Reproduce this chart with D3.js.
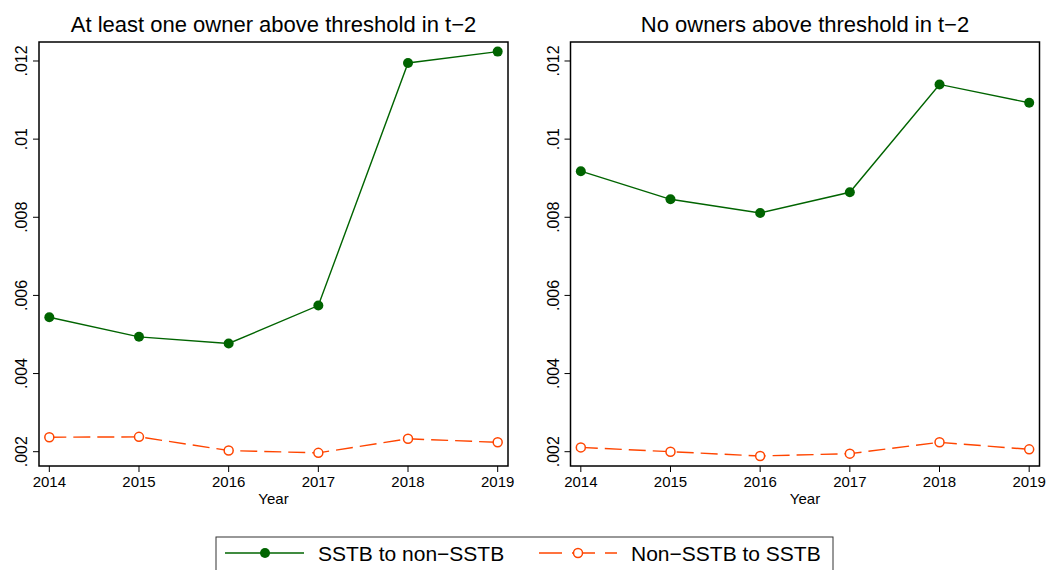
<!DOCTYPE html>
<html>
<head>
<meta charset="utf-8">
<script src="https://cdn.jsdelivr.net/npm/d3@7"></script>
<style>
  body { margin: 0; background: #fff; }
  svg { display: block; font-family: "Liberation Sans", Arial, sans-serif; }
</style>
</head>
<body>
<div id="chart"></div>
<script>
// data
const years = [2014, 2015, 2016, 2017, 2018, 2019];
const panelTitles = ['At least one owner above threshold in t\u22122', 'No owners above threshold in t\u22122'];
const sstbAbove = [0.00544, 0.00494, 0.00477, 0.00574, 0.01195, 0.01224];
const nonSstbAbove = [0.00237, 0.00238, 0.00203, 0.00197, 0.00233, 0.00224];
const sstbBelow = [0.00918, 0.00846, 0.00811, 0.00864, 0.01140, 0.01093];
const nonSstbBelow = [0.00211, 0.00200, 0.00189, 0.00195, 0.00224, 0.00206];
const yTicks = [0.002, 0.004, 0.006, 0.008, 0.010, 0.012];
const seriesNames = ['SSTB to non\u2212SSTB', 'Non\u2212SSTB to SSTB'];

const green = '#006400',
    orange = '#ff4500';

const width = 1047, height = 570;

let svg = d3.select('#chart').append('svg')
    .attr('width', width)
    .attr('height', height);

svg.append('rect').attr('width', width).attr('height', height).attr('fill', '#fff');

const plotW = 469, plotH = 424, plotTop = 42;
const panelLefts = [39, 570.5];

let x = d3.scaleLinear().domain([2013.885, 2019.115]).range([0, plotW]);
let y = d3.scaleLinear().domain([0.001634, 0.012486]).range([plotH, 0]);

function fmt(v) {
    return d3.format('.3f')(v).replace(/^0/, '').replace(/0$/, '');
}

function drawPanel(i, green_vals, orange_vals) {
    let g = svg.append('g')
        .attr('transform', 'translate(' + panelLefts[i] + ',' + plotTop + ')');

    // y ticks + rotated labels
    g.selectAll('.ytick').data(yTicks).enter().append('line')
        .attr('x1', -6).attr('x2', 0)
        .attr('y1', d => y(d)).attr('y2', d => y(d))
        .attr('stroke', '#000').attr('stroke-width', 1);

    g.selectAll('.ylab').data(yTicks).enter().append('text')
        .attr('transform', d => 'translate(-12,' + y(d) + ') rotate(-90)')
        .attr('text-anchor', 'middle')
        .attr('font-size', 16)
        .text(d => fmt(d));

    // x ticks + labels
    g.selectAll('.xtick').data(years).enter().append('line')
        .attr('x1', d => x(d)).attr('x2', d => x(d))
        .attr('y1', plotH).attr('y2', plotH + 6)
        .attr('stroke', '#000').attr('stroke-width', 1);

    g.selectAll('.xlab').data(years).enter().append('text')
        .attr('x', d => x(d))
        .attr('y', plotH + 21)
        .attr('text-anchor', 'middle')
        .attr('font-size', 15)
        .text(d => d);

    g.append('text')
        .attr('x', plotW / 2)
        .attr('y', plotH + 38)
        .attr('text-anchor', 'middle')
        .attr('font-size', 15)
        .text('Year');

    // title
    g.append('text')
        .attr('x', plotW / 2)
        .attr('y', -10)
        .attr('text-anchor', 'middle')
        .attr('font-size', 22)
        .text(panelTitles[i]);

    let line = d3.line()
        .x((d, j) => x(years[j]))
        .y(d => y(d));

    // orange dashed series
    g.append('path')
        .attr('d', line(orange_vals))
        .attr('fill', 'none')
        .attr('stroke', orange)
        .attr('stroke-width', 1.4)
        .attr('stroke-dasharray', '17,7');

    g.selectAll('.odot').data(orange_vals).enter().append('circle')
        .attr('cx', (d, j) => x(years[j]))
        .attr('cy', d => y(d))
        .attr('r', 4.5)
        .attr('fill', '#fff')
        .attr('stroke', orange)
        .attr('stroke-width', 1.5);

    // green solid series
    g.append('path')
        .attr('d', line(green_vals))
        .attr('fill', 'none')
        .attr('stroke', green)
        .attr('stroke-width', 1.4);

    g.selectAll('.gdot').data(green_vals).enter().append('circle')
        .attr('cx', (d, j) => x(years[j]))
        .attr('cy', d => y(d))
        .attr('r', 5)
        .attr('fill', green);

    // plot frame
    g.append('rect')
        .attr('width', plotW).attr('height', plotH)
        .attr('fill', 'none')
        .attr('stroke', '#000')
        .attr('stroke-width', 1.5);
}

drawPanel(0, sstbAbove, nonSstbAbove);
drawPanel(1, sstbBelow, nonSstbBelow);

// legend
let legend = svg.append('g');
legend.append('rect')
    .attr('x', 216).attr('y', 537)
    .attr('width', 617).attr('height', 50)
    .attr('fill', '#fff')
    .attr('stroke', '#333')
    .attr('stroke-width', 1);

const legY = 553;
legend.append('line')
    .attr('x1', 225).attr('x2', 304).attr('y1', legY).attr('y2', legY)
    .attr('stroke', green).attr('stroke-width', 1.4);
legend.append('circle')
    .attr('cx', 265).attr('cy', legY).attr('r', 5).attr('fill', green);
legend.append('text')
    .attr('x', 318).attr('y', legY + 7.5)
    .attr('font-size', 21)
    .text(seriesNames[0]);

legend.append('line')
    .attr('x1', 539).attr('x2', 617).attr('y1', legY).attr('y2', legY)
    .attr('stroke', orange).attr('stroke-width', 1.4)
    .attr('stroke-dasharray', '23,10');
legend.append('circle')
    .attr('cx', 578).attr('cy', legY).attr('r', 4.5)
    .attr('fill', '#fff').attr('stroke', orange).attr('stroke-width', 1.5);
legend.append('text')
    .attr('x', 631).attr('y', legY + 7.5)
    .attr('font-size', 21)
    .text(seriesNames[1]);
</script>
</body>
</html>
